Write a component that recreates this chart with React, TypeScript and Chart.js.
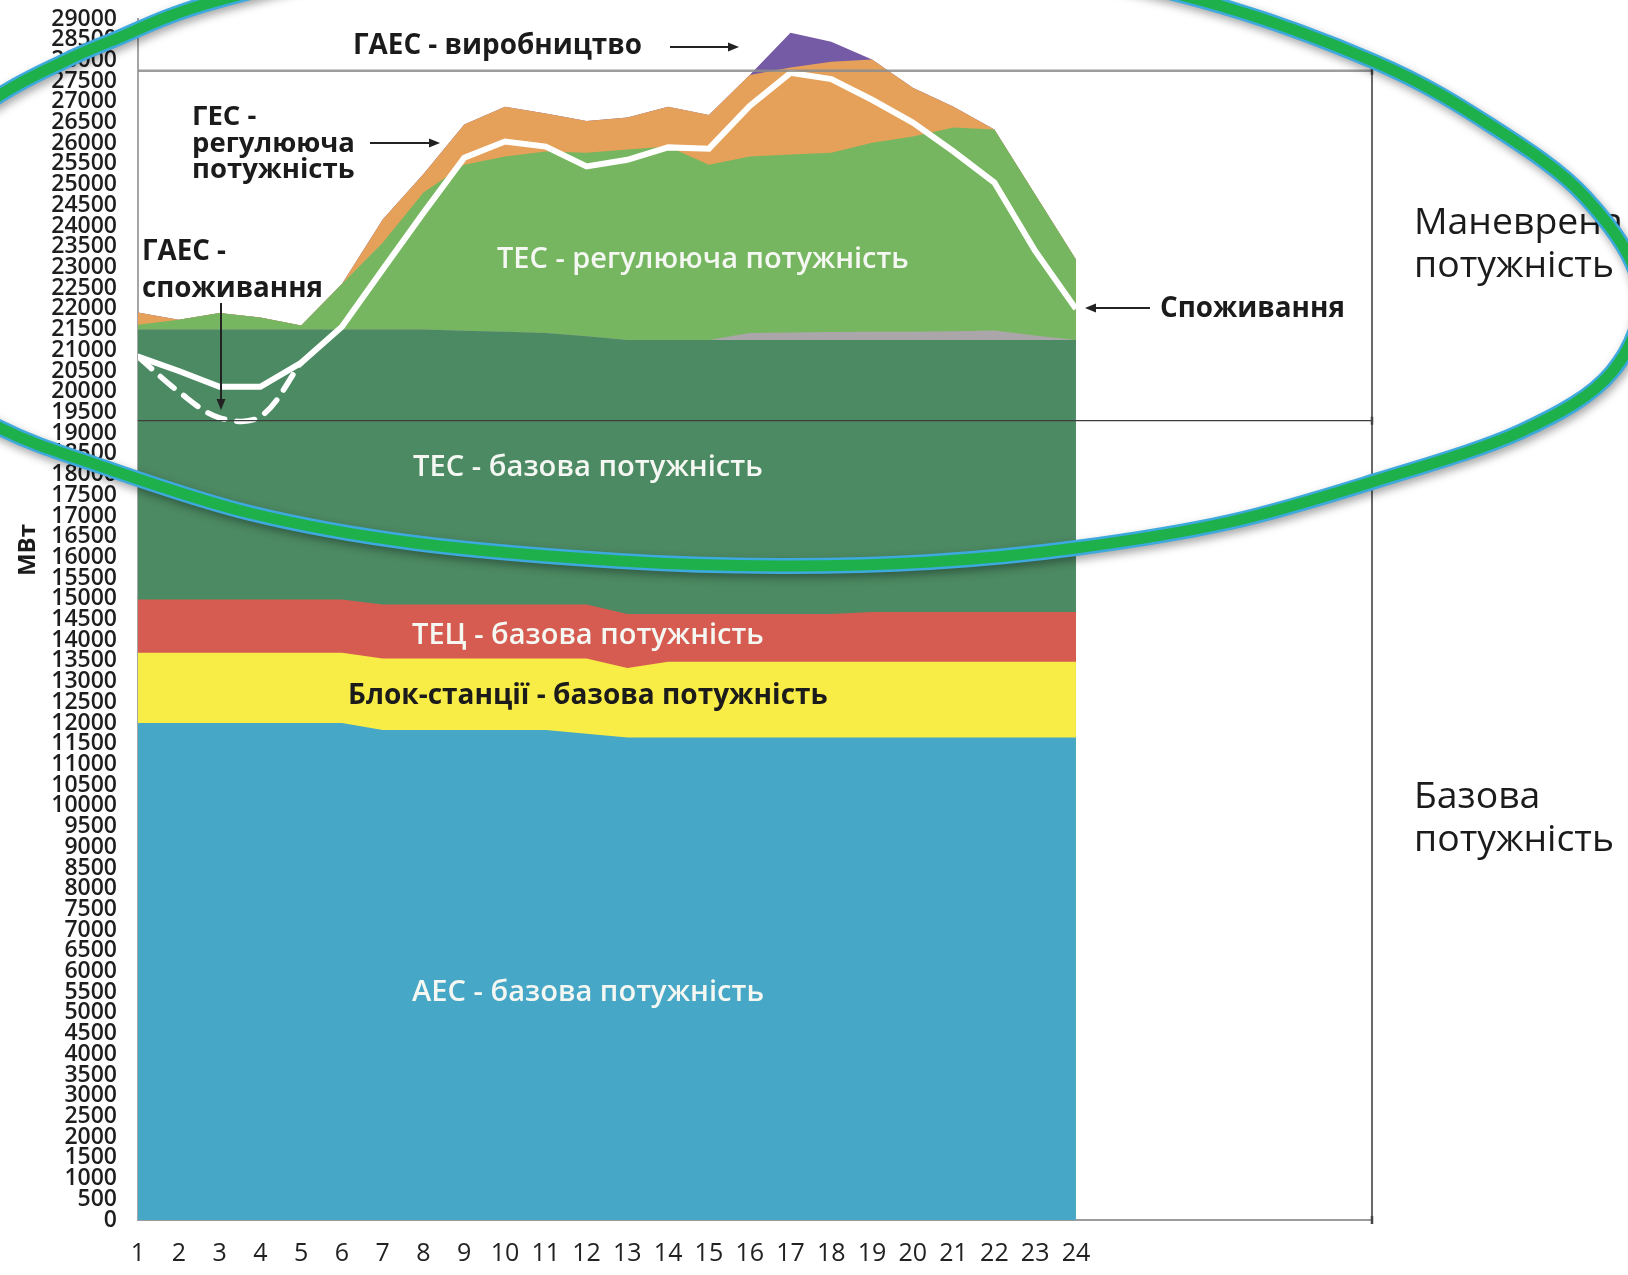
import React, { useEffect, useRef } from "react";
import { Chart, registerables } from "chart.js";

Chart.register(...registerables);

// ---------------- data (MW, hours 1..24) ----------------
const HOURS = [1, 2, 3, 4, 5, 6, 7, 8, 9, 10, 11, 12, 13, 14, 15, 16, 17, 18, 19, 20, 21, 22, 23, 24];

const AES_BASE = [12000, 12000, 12000, 12000, 12000, 12000, 11830, 11830, 11830, 11830, 11830, 11740, 11650, 11650, 11650, 11650, 11650, 11650, 11650, 11650, 11650, 11650, 11650, 11650];
const BLOCK_BASE = [1700, 1700, 1700, 1700, 1700, 1700, 1730, 1730, 1730, 1730, 1730, 1820, 1680, 1830, 1830, 1830, 1830, 1830, 1830, 1830, 1830, 1830, 1830, 1830];
const TEC_BASE = [1280, 1280, 1280, 1280, 1280, 1280, 1300, 1300, 1300, 1300, 1300, 1300, 1300, 1150, 1150, 1150, 1150, 1150, 1200, 1200, 1200, 1200, 1200, 1200];
const TES_BASE = [6520, 6520, 6520, 6520, 6520, 6520, 6640, 6640, 6610, 6590, 6560, 6480, 6620, 6620, 6620, 6620, 6620, 6620, 6570, 6570, 6570, 6570, 6570, 6570];
const OTHER = [0, 0, 0, 0, 0, 0, 0, 0, 0, 0, 0, 0, 0, 0, 0, 170, 180, 190, 200, 200, 210, 230, 110, 0];
const TES_REG = [120, 240, 400, 290, 100, 1100, 2100, 3310, 4010, 4230, 4380, 4430, 4600, 4670, 4230, 4260, 4300, 4330, 4560, 4710, 4920, 4850, 3400, 1940];
const HES_REG = [290, 0, 0, 0, 0, 0, 560, 450, 970, 1200, 920, 770, 770, 960, 1200, 1970, 2100, 2200, 2010, 1180, 500, 0, 0, 0];
const GAES_GEN = [0, 0, 0, 0, 0, 0, 0, 0, 0, 0, 0, 0, 0, 0, 0, 0, 840, 480, 0, 0, 0, 0, 0, 0];

const CONSUMPTION = [20850, 20500, 20120, 20120, 20700, 21570, 22950, 24320, 25650, 26040, 25920, 25440, 25600, 25900, 25870, 26900, 27700, 27550, 27050, 26500, 25800, 25050, 23400, 22000];
const GAES_PUMP_HOURS = [1, 2, 3, 4, 5];
const GAES_PUMP = [20850, 20000, 19370, 19400, 20700];

const Y_MAX = 29000;
const Y_STEP = 500;
const X_MAX = 31.26;
const BRACKET_LEVELS = [27750, 19300];

const COLORS = {
  aes: "#47a7c7",
  block: "#f8ec46",
  tec: "#d65c52",
  tesBase: "#4c8a63",
  other: "#aba6a9",
  tesReg: "#77b660",
  hes: "#e5a15a",
  gaes: "#755aa5",
};

const FONT = "'Open Sans', 'Noto Sans', 'DejaVu Sans', sans-serif";

// outline of the hand-drawn highlight oval (canvas pixels)
const OVAL: [number, number][] = [
  [1640, 288], [1612, 372], [1520, 432], [1372, 482], [1230, 522], [1076, 548], [930, 562], [779, 566],
  [620, 561], [415, 543], [250, 513], [100, 466], [0, 428], [-90, 370], [-135, 270], [-90, 160],
  [0, 95], [65, 61], [111, 41], [220, 0], [450, -50], [720, -68], [1000, -40], [1200, 0],
  [1375, 62], [1490, 125], [1585, 197],
];

function fitSize(ctx: CanvasRenderingContext2D, text: string, weight: string, width: number) {
  ctx.font = `${weight} 100px ${FONT}`;
  return (100 * width) / ctx.measureText(text).width;
}

function drawText(ctx: CanvasRenderingContext2D, text: string, x: number, y: number, size: number, weight: string, color: string) {
  ctx.font = `${weight} ${size}px ${FONT}`;
  ctx.fillStyle = color;
  ctx.textAlign = "left";
  ctx.textBaseline = "alphabetic";
  ctx.fillText(text, x, y);
}

function arrow(ctx: CanvasRenderingContext2D, x1: number, y1: number, x2: number, y2: number) {
  const a = Math.atan2(y2 - y1, x2 - x1);
  const L = 11;
  const W = 4.5;
  ctx.beginPath();
  ctx.moveTo(x1, y1);
  ctx.lineTo(x2 - L * 0.6 * Math.cos(a), y2 - L * 0.6 * Math.sin(a));
  ctx.stroke();
  ctx.beginPath();
  ctx.moveTo(x2, y2);
  ctx.lineTo(x2 - L * Math.cos(a) + W * Math.sin(a), y2 - L * Math.sin(a) - W * Math.cos(a));
  ctx.lineTo(x2 - L * Math.cos(a) - W * Math.sin(a), y2 - L * Math.sin(a) + W * Math.cos(a));
  ctx.closePath();
  ctx.fill();
}

function ovalPath(ctx: CanvasRenderingContext2D) {
  const n = OVAL.length;
  const P = (i: number) => OVAL[((i % n) + n) % n];
  ctx.beginPath();
  ctx.moveTo(P(0)[0], P(0)[1]);
  for (let i = 0; i < n; i++) {
    const p0 = P(i - 1), p1 = P(i), p2 = P(i + 1), p3 = P(i + 2);
    const c1x = p1[0] + (p2[0] - p0[0]) / 6;
    const c1y = p1[1] + (p2[1] - p0[1]) / 6;
    const c2x = p2[0] - (p3[0] - p1[0]) / 6;
    const c2y = p2[1] - (p3[1] - p1[1]) / 6;
    ctx.bezierCurveTo(c1x, c1y, c2x, c2y, p2[0], p2[1]);
  }
  ctx.closePath();
}

const annotations = {
  id: "annotations",
  afterDatasetsDraw(chart: any) {
    const ctx: CanvasRenderingContext2D = chart.ctx;
    const ys = chart.scales.y;
    const { left, right, bottom } = chart.chartArea;
    const yTop = ys.getPixelForValue(BRACKET_LEVELS[0]);
    const yMid = ys.getPixelForValue(BRACKET_LEVELS[1]);
    ctx.save();
    // bracket lines
    ctx.strokeStyle = "rgba(140,140,140,0.85)";
    ctx.lineWidth = 2.5;
    ctx.beginPath();
    ctx.moveTo(left, yTop);
    ctx.lineTo(right, yTop);
    ctx.stroke();
    ctx.strokeStyle = "#3c3c3c";
    ctx.lineWidth = 1.2;
    ctx.beginPath();
    ctx.moveTo(left, yMid);
    ctx.lineTo(right, yMid);
    ctx.stroke();
    ctx.strokeStyle = "#444";
    ctx.lineWidth = 1.6;
    ctx.beginPath();
    ctx.moveTo(right, yTop);
    ctx.lineTo(right, bottom + 2);
    ctx.stroke();
    for (const yy of [yTop, yMid, bottom]) {
      ctx.beginPath();
      ctx.moveTo(right, yy - 4);
      ctx.lineTo(right, yy + 4);
      ctx.lineWidth = 2.5;
      ctx.stroke();
    }

    // arrows
    ctx.strokeStyle = "#222";
    ctx.fillStyle = "#222";
    ctx.lineWidth = 2;
    arrow(ctx, 670, 47, 739, 47);
    arrow(ctx, 370, 143, 440, 143);
    arrow(ctx, 221, 303, 221, 410);
    arrow(ctx, 1150, 308, 1085, 308);

    // black bold annotations
    const dark = "#1b1b1b";
    let s = fitSize(ctx, "ГАЕС - виробництво", "bold", 289);
    drawText(ctx, "ГАЕС - виробництво", 353, 54, s, "bold", dark);
    s = fitSize(ctx, "регулююча", "bold", 163);
    drawText(ctx, "ГЕС -", 192, 125, s, "bold", dark);
    drawText(ctx, "регулююча", 192, 152, s, "bold", dark);
    drawText(ctx, "потужність", 192, 178, s, "bold", dark);
    s = fitSize(ctx, "споживання", "bold", 181);
    drawText(ctx, "ГАЕС -", 142, 260, s, "bold", dark);
    drawText(ctx, "споживання", 142, 297, s, "bold", dark);
    s = fitSize(ctx, "Споживання", "bold", 185);
    drawText(ctx, "Споживання", 1160, 317, s, "bold", dark);

    // labels inside areas
    const light = "#f4f7f2";
    s = fitSize(ctx, "ТЕС - регулююча потужність", "600", 412);
    drawText(ctx, "ТЕС - регулююча потужність", 497, 268, s, "600", light);
    s = fitSize(ctx, "ТЕС - базова потужність", "600", 350);
    drawText(ctx, "ТЕС - базова потужність", 413, 476, s, "600", light);
    s = fitSize(ctx, "ТЕЦ - базова потужність", "600", 352);
    drawText(ctx, "ТЕЦ - базова потужність", 412, 644, s, "600", light);
    s = fitSize(ctx, "Блок-станції - базова потужність", "bold", 480);
    drawText(ctx, "Блок-станції - базова потужність", 348, 704, s, "bold", dark);
    s = fitSize(ctx, "АЕС - базова потужність", "600", 352);
    drawText(ctx, "АЕС - базова потужність", 412, 1001, s, "600", light);

    // right side group labels
    s = fitSize(ctx, "потужність", "normal", 200);
    drawText(ctx, "Маневрена", 1414, 234, s, "normal", dark);
    drawText(ctx, "потужність", 1414, 277, s, "normal", dark);
    drawText(ctx, "Базова", 1414, 808, s, "normal", dark);
    drawText(ctx, "потужність", 1414, 851, s, "normal", dark);

    // axis unit
    s = fitSize(ctx, "МВт", "bold", 52);
    ctx.translate(28, 550);
    ctx.rotate(-Math.PI / 2);
    ctx.font = `bold ${s}px ${FONT}`;
    ctx.fillStyle = dark;
    ctx.textAlign = "center";
    ctx.textBaseline = "middle";
    ctx.fillText("МВт", 0, 0);
    ctx.restore();
  },
  afterDraw(chart: any) {
    const ctx: CanvasRenderingContext2D = chart.ctx;
    ctx.save();
    ovalPath(ctx);
    ctx.shadowColor = "rgba(0,0,0,0.35)";
    ctx.shadowBlur = 8;
    ctx.shadowOffsetX = 2;
    ctx.shadowOffsetY = 4;
    ctx.strokeStyle = "#3da9dd";
    ctx.lineWidth = 16;
    ctx.lineJoin = "round";
    ctx.stroke();
    ctx.shadowColor = "transparent";
    ctx.strokeStyle = "#1eb04b";
    ctx.lineWidth = 11;
    ctx.stroke();
    ctx.restore();
  },
};

export default function App() {
  const ref = useRef<HTMLCanvasElement>(null);

  useEffect(() => {
    const canvas = ref.current;
    if (!canvas) return;
    const pts = (arr: number[], xs: number[] = HOURS) => arr.map((y, i) => ({ x: xs[i], y }));
    const area = (label: string, data: number[], color: string) => ({
      label,
      data: pts(data),
      backgroundColor: color,
      borderColor: "rgba(0,0,0,0)",
      borderWidth: 0,
      pointRadius: 0,
      fill: "origin",
      stack: "gen",
      tension: 0,
    });

    const chart = new Chart(canvas, {
      type: "line",
      data: {
        datasets: [
          area("АЕС - базова потужність", AES_BASE, COLORS.aes),
          area("Блок-станції - базова потужність", BLOCK_BASE, COLORS.block),
          area("ТЕЦ - базова потужність", TEC_BASE, COLORS.tec),
          area("ТЕС - базова потужність", TES_BASE, COLORS.tesBase),
          area("Інше", OTHER, COLORS.other),
          area("ТЕС - регулююча потужність", TES_REG, COLORS.tesReg),
          area("ГЕС - регулююча потужність", HES_REG, COLORS.hes),
          area("ГАЕС - виробництво", GAES_GEN, COLORS.gaes),
          {
            label: "Споживання",
            data: pts(CONSUMPTION),
            borderColor: "#ffffff",
            borderWidth: 6,
            pointRadius: 0,
            fill: false,
            stack: "cons",
            order: -1,
            tension: 0,
          },
          {
            label: "ГАЕС - споживання",
            data: pts(GAES_PUMP, GAES_PUMP_HOURS),
            borderColor: "#ffffff",
            borderWidth: 5.5,
            borderDash: [18, 12],
            borderCapStyle: "round",
            pointRadius: 0,
            fill: false,
            stack: "gaes",
            order: -1,
            tension: 0.35,
          },
        ] as any,
      },
      options: {
        responsive: true,
        maintainAspectRatio: false,
        animation: false,
        devicePixelRatio: 1,
        layout: { padding: { left: 0, top: 19, right: 256, bottom: 0 } },
        plugins: { legend: { display: false }, tooltip: { enabled: false } },
        scales: {
          x: {
            type: "linear",
            min: 1,
            max: X_MAX,
            grid: { display: false, drawTicks: false },
            border: { display: true, color: "#9c9c9c", width: 2 },
            afterBuildTicks: (s: any) => {
              s.ticks = HOURS.map((v) => ({ value: v }));
            },
            afterFit: (s: any) => {
              s.height = 55;
            },
            ticks: {
              autoSkip: false,
              maxRotation: 0,
              padding: 19,
              color: "#222",
              font: { family: FONT, size: 25 },
              callback: (v: any) => String(v),
            },
          },
          y: {
            type: "linear",
            stacked: true,
            min: 0,
            max: Y_MAX,
            grid: { display: false, drawTicks: false },
            border: { display: true, color: "#a5a5a5", width: 2 },
            afterFit: (s: any) => {
              s.width = 138;
              s.paddingTop = 0;
              s.paddingBottom = 0;
            },
            ticks: {
              stepSize: Y_STEP,
              autoSkip: false,
              padding: 21,
              color: "#1e1e1e",
              font: { family: FONT, weight: "600", size: 23 },
              callback: (v: any) => String(v),
            },
          },
        },
      } as any,
      plugins: [annotations],
    });
    return () => chart.destroy();
  }, []);

  return (
    <div style={{ position: "fixed", left: 0, top: 0, width: 1628, height: 1275, background: "#ffffff" }}>
      <canvas ref={ref} style={{ display: "block" }} />
    </div>
  );
}
